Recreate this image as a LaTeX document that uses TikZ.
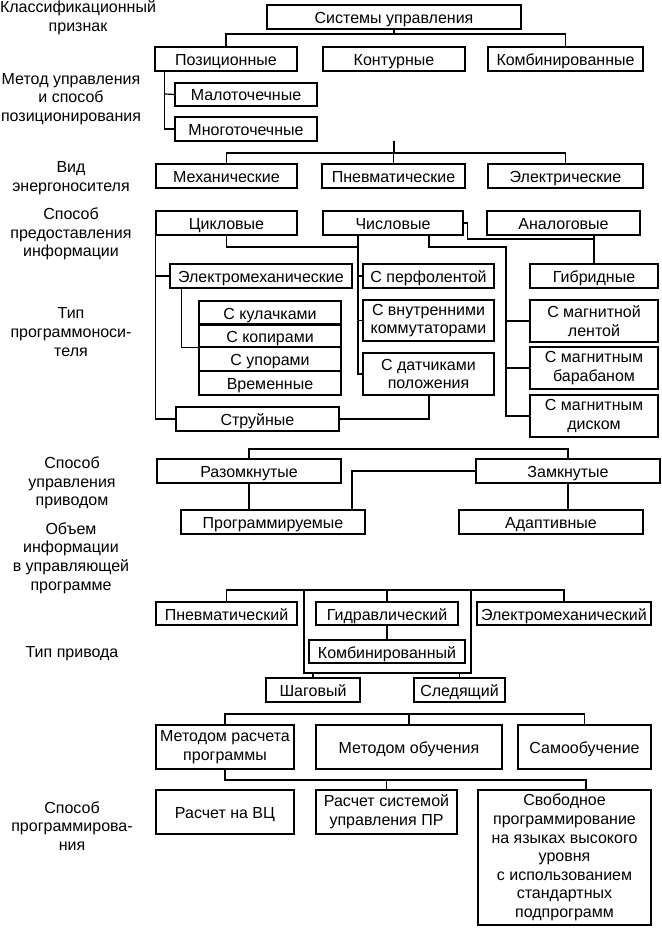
\documentclass[tikz,border=0pt]{standalone}
\usepackage{fontspec}
\setmainfont{Liberation Sans}
\newcommand\fs{\fontsize{16}{18.6}\selectfont}
\tikzset{
  bx/.style={draw, line width=1.2pt, inner sep=0pt, align=center, font=\fs},
  one/.style={text height=13pt, text depth=0pt},
  ln/.style={line width=1.2pt},
  lbl/.style={align=center, font=\fs, inner sep=0pt}
}
\newcommand\bxc[6]{\node[bx, minimum width={#4pt-#2pt}, minimum height={#5pt-#3pt}] (#1) at ({(#2+#4)/2},{(#3+#5)/2}) {#6};}
\newcommand\bxo[6]{\node[bx, one, minimum width={#4pt-#2pt}, minimum height={#5pt-#3pt}] (#1) at ({(#2+#4)/2},{(#3+#5)/2}) {#6};}
\begin{document}
\begin{tikzpicture}[x=1pt,y=-1pt]
\useasboundingbox (0,0) rectangle (661,928);
\fill[white] (0,0) rectangle (661,928);
% labels
\node[lbl] (l1) at (78,18) {Классификационный\\признак};
\node[lbl] (l2) at (71,99) {Метод управления\\и способ\\позиционирования};
\node[lbl] (l3) at (71,178) {Вид\\энергоносителя};
\node[lbl] (l4) at (71,234) {Способ\\предоставления\\информации};
\node[lbl] (l5) at (71,332) {Тип\\программоноси-\\теля};
\node[lbl] (l6) at (72,483) {Способ\\управления\\приводом};
\node[lbl] (l7) at (71,558) {Объем\\информации\\в управляющей\\программе};
\node[lbl] (l8) at (72,654) {Тип привода};
\node[lbl] (l9) at (72,826) {Способ\\программирова-\\ния};
% boxes
\bxo{sys}{267}{5}{521}{29}{Системы управления}
\bxo{poz}{155}{47}{297}{71}{Позиционные}
\bxo{kont}{323}{47}{465}{71}{Контурные}
\bxo{komb}{488}{47}{643}{71}{Комбинированные}
\bxo{malo}{175}{83}{317}{106}{Малоточечные}
\bxo{mnogo}{175}{117}{317}{141}{Многоточечные}
\bxo{mech}{156}{164}{297}{188}{Механические}
\bxo{pnev}{322}{164}{465}{188}{Пневматические}
\bxo{elec}{488}{164}{643}{188}{Электрические}
\bxo{cikl}{156}{211}{297}{235}{Цикловые}
\bxo{chisl}{323}{211}{463}{235}{Числовые}
\bxo{analog}{487}{211}{640}{235}{Аналоговые}
\bxo{elmech}{170}{264}{352}{288}{Электромеханические}
\bxo{perf}{363}{264}{494}{288}{С перфолентой}
\bxo{gibr}{530}{264}{658}{288}{Гибридные}
\bxo{kulach}{199}{301}{341}{324}{С кулачками}
\bxo{kopir}{199}{324}{341}{347}{С копирами}
\bxo{upor}{199}{347}{341}{371}{С упорами}
\bxo{vrem}{199}{371}{341}{395}{Временные}
\bxc{vnut}{363}{300}{494}{341}{С внутренними\\коммутаторами}
\bxc{datch}{363}{353}{494}{395}{С датчиками\\положения}
\bxo{strui}{176}{407}{339}{431}{Струйные}
\bxc{lent}{530}{300}{658}{342}{С магнитной\\лентой}
\bxc{barab}{530}{347}{658}{389}{С магнитным\\барабаном}
\bxc{disk}{530}{395}{658}{437}{С магнитным\\диском}
\bxo{razom}{157}{459}{341}{483}{Разомкнутые}
\bxo{zamk}{476}{459}{660}{483}{Замкнутые}
\bxo{prog}{181}{510}{365}{534}{Программируемые}
\bxo{adapt}{459}{510}{643}{534}{Адаптивные}
\bxo{pnevm}{156}{602}{297}{625}{Пневматический}
\bxo{gidr}{316}{602}{458}{625}{Гидравлический}
\bxo{elmeh2}{477}{602}{651}{625}{Электромеханический}
\bxo{komb2}{309}{640}{465}{663}{Комбинированный}
\bxo{shag}{266}{678}{360}{702}{Шаговый}
\bxo{sled}{414}{678}{505}{702}{Следящий}
\bxc{mrp}{156}{725}{294}{769}{Методом расчета\\программы}
\bxo{mob}{316}{725}{502}{769}{Методом обучения}
\bxo{samo}{518}{725}{651}{769}{Самообучение}
\bxo{rvc}{156}{790}{294}{834}{Расчет на ВЦ}
\bxc{rsu}{316}{790}{457}{834}{Расчет системой\\управления ПР}
\bxc{svob}{478}{790}{651}{925}{Свободное\\программирование\\на языках высокого\\уровня\\с использованием\\стандартных\\подпрограмм}
\draw[line width=1.8pt] (kulach.south west) -- (kulach.south east);
% connectors row 1-2
\coordinate (j1) at (394,34);
\draw[ln] (sys.south) -- (j1);
\draw[ln] (poz.north) |- (j1) -| (komb.north);
\coordinate (pv) at (165,94);
\draw[ln] ([xshift=10pt]poz.south west) |- (mnogo.west);
\draw[ln] (malo.west) -- (pv);
% row 3
\coordinate (s3) at (394,141);
\coordinate (b3) at (394,153);
\draw[ln] (s3) -- (b3);
\draw[ln] (mech.north) |- (b3) -| (elec.north);
\draw[ln] (pnev.north) -- (pnev.north |- b3);
% row 4
\coordinate (mv) at (358,247);
\draw[ln] (cikl.south) |- (mv);
\draw[ln] (chisl.south -| mv) |- (datch.west);
\draw[ln] (perf.west) -- (perf.west -| mv);
\draw[ln] (vnut.west) -- (vnut.west -| mv);
\draw[ln] (cikl.south west) |- (strui.west);
\draw[ln] (elmech.west) -- (elmech.west -| cikl.west);
\draw[ln] ([xshift=12pt]elmech.south west) |- (kopir.south west);
\coordinate (g1) at (594,239);
\draw[ln] (chisl.east) -- ++(4,0) |- (g1);
\draw[ln] (analog.south -| gibr.north) -- (gibr.north);
\coordinate (c2) at (429,247);
\coordinate (m3) at (506,247);
\draw[ln] (chisl.south -| c2) -- (c2) -- (m3) |- (disk.west);
\draw[ln] (lent.west) -- (lent.west -| m3);
\draw[ln] (barab.west) -- (barab.west -| m3);
\draw[ln] (datch.south -| c2) |- (strui.east);
% row 5
\coordinate (b5) at (400,449);
\draw[ln] (razom.north) |- (b5) -| (zamk.north);
\draw[ln] (razom.south) -- (razom.south |- prog.north);
\coordinate (z1) at (352,471);
\draw[ln] (zamk.west) -- (zamk.west -| z1) -- (z1 |- prog.north);
\draw[ln] (zamk.south) -- (zamk.south |- adapt.north);
% row 6
\coordinate (b6) at (400,590);
\draw[ln] (pnevm.north) |- (b6) -| (elmeh2.north);
\draw[ln] (gidr.north) -- (gidr.north |- b6);
\draw[ln] (gidr.south) -- (gidr.south |- komb2.north);
\coordinate (fl) at (304,590);
\coordinate (fr) at (471,590);
\coordinate (fb) at (304,673);
\draw[ln] (fl) -- (fb) -| (fr);
\draw[ln] (shag.north) -- (shag.north |- fb);
\draw[ln] (sled.north) -- (sled.north |- fb);
% row 7
\coordinate (b7) at (400,714);
\draw[ln] (mrp.north) |- (b7) -| (samo.north);
\draw[ln] (mob.north) -- (mob.north |- b7);
\coordinate (b8) at (586,780);
\draw[ln] (mrp.south) |- (b8) -- (b8 |- svob.north);
\draw[ln] (rsu.north) -- (rsu.north |- b8);
\end{tikzpicture}
\end{document}
